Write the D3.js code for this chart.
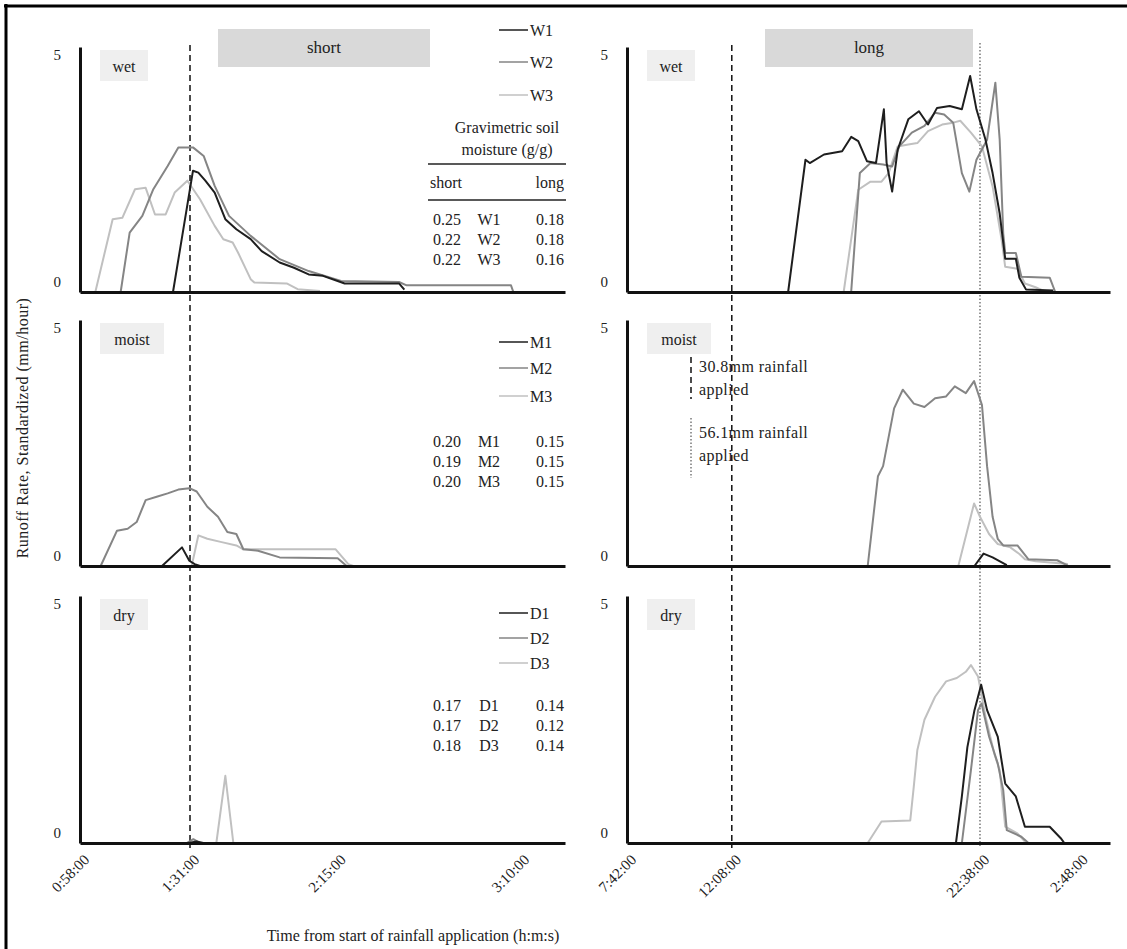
<!DOCTYPE html>
<html lang="en">
<head>
<meta charset="utf-8">
<title>Runoff rate</title>
<script src="https://d3js.org/d3.v7.min.js"></script>
<style>
  body { margin: 0; background: #fff; }
  text { font-family: "Liberation Serif", "DejaVu Serif", serif; fill: #222; font-size: 16px; }
  .axis path { stroke: #111; stroke-width: 3px; }
  .axis text { font-family: "Liberation Serif", serif; font-size: 15px; fill: #222; }
  .series { fill: none; stroke-linejoin: round; }
</style>
</head>
<body>
<div id="chart"></div>
<script>
// x ticks (minutes from start) and their labels
var shortTicks = [58, 91, 135, 190];
var shortTickLabels = ["0:58:00", "1:31:00", "2:15:00", "3:10:00"];
var longTicks = [462, 728, 1358, 1608];
var longTickLabels = ["7:42:00", "12:08:00", "22:38:00", "2:48:00"];
var shortDomain = [58, 203.5];
var longDomain = [462, 1688];
var yTicks = [0, 5];

// rainfall markers: 30.8mm (dashed) and 56.1mm (dotted)
var rainShort = 91;
var rainLong30 = 728;
var rainLong56 = 1358;

var moistureClasses = ["wet", "moist", "dry"];
var plotNames = [["W1", "W2", "W3"], ["M1", "M2", "M3"], ["D1", "D2", "D3"]];
var moistureShort = [["0.25", "0.22", "0.22"], ["0.20", "0.19", "0.20"], ["0.17", "0.17", "0.18"]];
var moistureLong = [["0.18", "0.18", "0.16"], ["0.15", "0.15", "0.15"], ["0.14", "0.12", "0.14"]];

// series: [minutes, runoff mm/hour]
var wetShortW1 = [[85.9,0],[91.9,2.55],[93.5,2.51],[95.6,2.34],[98.4,2.09],[101.6,1.53],[104.9,1.32],[109.2,1.11],[112.5,0.86],[117.9,0.62],[122.2,0.51],[126.6,0.37],[130.9,0.34],[135.3,0.23],[137.4,0.18],[153.7,0.18],[155.3,0.05]];
var wetShortW2 = [[70.2,0],[72.9,1.25],[76.7,1.6],[80,2.16],[84.3,2.65],[87.5,3.04],[91.9,3.04],[95.1,2.86],[98.4,2.23],[102.7,1.6],[109.2,1.18],[117.9,0.69],[126.6,0.44],[136.3,0.23],[153.7,0.21],[156,0.14],[187.3,0.14],[188,0]];
var wetShortW3 = [[62.6,0],[67.8,1.53],[70.7,1.56],[74.5,2.16],[77.7,2.19],[80.5,1.63],[83.7,1.63],[86.4,2.09],[90.2,2.34],[94,1.95],[98.4,1.39],[101,1.11],[103.8,1.04],[105.4,0.83],[109.2,0.27],[110.3,0.2],[120,0.18],[123.3,0.06],[130,0.02]];

var wetLongW1 = [[871,0],[915,2.78],[926,2.71],[962,2.89],[1008,2.96],[1031,3.26],[1049,3.17],[1071,2.75],[1094,2.71],[1114,3.84],[1121,2.71],[1135,2.11],[1149,2.99],[1176,3.63],[1203,3.8],[1226,3.52],[1249,3.87],[1281,3.91],[1312,3.84],[1333,4.54],[1349,3.84],[1372,3.2],[1390,2.5],[1408,1.65],[1422,0.7],[1449,0.7],[1458,0.3],[1475,0.05],[1544,0.03]];
var wetLongW2 = [[1031,0],[1053,2.5],[1080,2.71],[1112,2.68],[1135,2.64],[1153,3.06],[1185,3.35],[1217,3.49],[1244,3.77],[1267,3.73],[1290,3.56],[1312,2.5],[1331,2.11],[1349,2.78],[1376,3.2],[1397,4.4],[1408,3.2],[1417,1.23],[1422,0.82],[1449,0.82],[1463,0.32],[1535,0.3],[1549,0]];
var wetLongW3 = [[1012,0],[1049,2.15],[1080,2.32],[1108,2.32],[1126,2.5],[1149,3.06],[1176,3.1],[1199,3.13],[1226,3.38],[1262,3.52],[1290,3.56],[1308,3.6],[1335,3.35],[1363,3.06],[1390,2.22],[1413,1.09],[1422,0.53],[1453,0.49],[1472,0.18],[1499,0.1],[1526,0]];

var moistShortM1 = [[82.6,0],[88.6,0.39],[90.8,0.11],[92.4,0.04],[94,0]];
var moistShortM2 = [[64.2,0],[69.1,0.74],[72.3,0.78],[75,0.92],[77.7,1.38],[81,1.45],[84.3,1.52],[87.5,1.6],[90.8,1.63],[93,1.56],[96.2,1.24],[99.4,1.03],[102.2,0.71],[104.9,0.67],[107,0.35],[111.4,0.32],[117.9,0.18],[135.3,0.16],[138,0]];
var moistShortM3 = [[91.5,0],[93.5,0.64],[96.2,0.57],[100.5,0.5],[104.9,0.43],[107,0.35],[134.7,0.35],[138.5,0.04],[140,0]];

var moistLongM1 = [[1344,0],[1367,0.26],[1390,0.18],[1426,0.02]];
var moistLongM2 = [[1073,0],[1099,1.88],[1112,2.09],[1140,3.3],[1162,3.69],[1190,3.4],[1217,3.33],[1244,3.51],[1272,3.55],[1294,3.76],[1322,3.62],[1343,3.87],[1363,3.37],[1376,2.09],[1390,1.03],[1403,0.57],[1417,0.43],[1453,0.43],[1481,0.14],[1554,0.12],[1581,0.01]];
var moistLongM3 = [[1303,0],[1343,1.31],[1358,1.03],[1381,0.67],[1403,0.46],[1435,0.39],[1458,0.25],[1472,0.14],[1499,0.1],[1581,0.04]];

var dryShortD1 = [[90.5,0],[93,0.03],[95,0]];
var dryShortD2 = [[90,0],[92,0.08],[94,0]];
var dryShortD3 = [[98.9,0],[101.6,1.4],[104,0]];

var dryLongD1 = [[1297,0],[1312,0.97],[1326,2],[1344,2.77],[1361,3.3],[1376,2.77],[1403,2.22],[1422,1.24],[1449,0.97],[1472,0.34],[1535,0.34],[1563,0.1],[1572,0]];
var dryLongD2 = [[1312,0],[1335,1.52],[1353,2.77],[1362,2.91],[1381,2.22],[1403,1.66],[1417,1.1],[1426,0.27],[1463,0.13],[1481,0]];
var dryLongD3 = [[1073,0],[1108,0.45],[1181,0.47],[1190,1.18],[1199,1.94],[1217,2.57],[1244,3.05],[1272,3.37],[1299,3.44],[1322,3.57],[1335,3.71],[1353,3.47],[1372,2.64],[1394,1.87],[1408,1.52],[1422,0.34],[1453,0.2],[1472,0.03]];

var shortSeries = [[wetShortW1, wetShortW2, wetShortW3], [moistShortM1, moistShortM2, moistShortM3], [dryShortD1, dryShortD2, dryShortD3]];
var longSeries = [[wetLongW1, wetLongW2, wetLongW3], [moistLongM1, moistLongM2, moistLongM3], [dryLongD1, dryLongD2, dryLongD3]];

var width = 1127, height = 949;
var colX = [[80, 565], [627, 1110]];
var rowY = [[47, 292], [320, 566], [596, 843]];
var lineColors = ["#1e1e1e", "#858585", "#c0c0c0"];
var lineWidths = [2, 2, 2];

var svg = d3.select("#chart").append("svg")
    .attr("width", width)
    .attr("height", height);

// frame
svg.append("line").attr("x1", 4).attr("x2", width).attr("y1", 6).attr("y2", 6)
    .attr("stroke", "#000").attr("stroke-width", 3);
svg.append("line").attr("x1", 6).attr("x2", 6).attr("y1", 4).attr("y2", height)
    .attr("stroke", "#000").attr("stroke-width", 3);

// duration header boxes
var headers = [{label: "short", x0: 218, x1: 430}, {label: "long", x0: 765, x1: 973}];
headers.forEach(function(h) {
  svg.append("rect").attr("x", h.x0).attr("y", 29).attr("width", h.x1 - h.x0).attr("height", 38)
      .attr("fill", "#d9d9d9");
  svg.append("text").attr("x", (h.x0 + h.x1) / 2).attr("y", 47).attr("dy", "0.35em")
      .attr("text-anchor", "middle").style("font-size", "17px").text(h.label);
});

var xScales = [
  d3.scaleLinear().domain(shortDomain).range(colX[0]),
  d3.scaleLinear().domain(longDomain).range(colX[1])
];

// rainfall lines through all rows
svg.append("line").attr("x1", xScales[0](rainShort)).attr("x2", xScales[0](rainShort))
    .attr("y1", 45).attr("y2", 848).attr("stroke", "#111").attr("stroke-width", 1.5)
    .attr("stroke-dasharray", "6,4");
svg.append("line").attr("x1", xScales[1](rainLong30)).attr("x2", xScales[1](rainLong30))
    .attr("y1", 45).attr("y2", 848).attr("stroke", "#111").attr("stroke-width", 1.5)
    .attr("stroke-dasharray", "6,4");
svg.append("line").attr("x1", xScales[1](rainLong56)).attr("x2", xScales[1](rainLong56))
    .attr("y1", 43).attr("y2", 848).attr("stroke", "#333").attr("stroke-width", 1)
    .attr("stroke-dasharray", "1.5,2");

moistureClasses.forEach(function(cls, r) {
  var y = d3.scaleLinear().domain([0, 5.15]).range([rowY[r][1], rowY[r][0]]);

  [0, 1].forEach(function(c) {
    var x = xScales[c];
    var g = svg.append("g");
    var series = c === 0 ? shortSeries[r] : longSeries[r];

    // moisture class label
    var lw = cls.length * 8 + 24;
    g.append("rect").attr("x", colX[c][0] + 20).attr("y", rowY[r][0] + 3)
        .attr("width", lw).attr("height", 31).attr("fill", "#efefef");
    g.append("text").attr("x", colX[c][0] + 20 + lw / 2).attr("y", rowY[r][0] + 19)
        .attr("dy", "0.35em").attr("text-anchor", "middle").text(cls);

    var line = d3.line().x(function(d) { return x(d[0]); }).y(function(d) { return y(d[1]); });
    // light lines first, black on top
    [2, 1, 0].forEach(function(i) {
      g.append("path").datum(series[i]).attr("class", "series")
          .attr("d", line)
          .attr("stroke", lineColors[i])
          .attr("stroke-width", lineWidths[i]);
    });

    var xAxis = d3.axisBottom(x)
        .tickValues(c === 0 ? shortTicks : longTicks)
        .tickSize(0)
        .tickFormat(function(d, i) {
          if (r < 2) return "";
          return (c === 0 ? shortTickLabels : longTickLabels)[i];
        });
    var gx = g.append("g").attr("class", "axis")
        .attr("transform", "translate(0," + rowY[r][1] + ")")
        .call(xAxis);
    gx.selectAll("text")
        .attr("x", 0).attr("y", 0).attr("dy", "0.35em")
        .attr("transform", "translate(6,14) rotate(-45)")
        .style("text-anchor", "end");

    var gy = g.append("g").attr("class", "axis")
        .attr("transform", "translate(" + colX[c][0] + ",0)")
        .call(d3.axisLeft(y).tickValues(yTicks).tickFormat(d3.format("d")).tickSize(0).tickPadding(19));
    gy.selectAll("text").attr("dy", function(d) { return d === 0 ? "-0.35em" : "0.35em"; });
  });

  // legend and soil moisture table (short column)
  var legendY = [[30, 62, 95], [342, 368, 396], [613, 638, 663]][r];
  var rowsY = [[219, 239, 259], [441, 461, 481], [705, 725, 745]][r];
  plotNames[r].forEach(function(name, i) {
    svg.append("line").attr("x1", 499).attr("x2", 528)
        .attr("y1", legendY[i]).attr("y2", legendY[i])
        .attr("stroke", lineColors[i]).attr("stroke-width", 1.5);
    svg.append("text").attr("x", 530).attr("y", legendY[i]).attr("dy", "0.35em").text(name);

    svg.append("text").attr("x", 433).attr("y", rowsY[i]).attr("dy", "0.35em")
        .text(moistureShort[r][i]);
    svg.append("text").attr("x", 489).attr("y", rowsY[i]).attr("dy", "0.35em")
        .attr("text-anchor", "middle").text(name);
    svg.append("text").attr("x", 564).attr("y", rowsY[i]).attr("dy", "0.35em")
        .attr("text-anchor", "end").text(moistureLong[r][i]);
  });
});

// table header
svg.append("text").attr("x", 507).attr("y", 127).attr("dy", "0.35em")
    .attr("text-anchor", "middle").text("Gravimetric soil");
var mh = svg.append("text").attr("x", 507).attr("y", 149).attr("dy", "0.35em")
    .attr("text-anchor", "middle");
mh.append("tspan").text("moisture (");
mh.append("tspan").attr("text-decoration", "underline").text("g");
mh.append("tspan").text("/");
mh.append("tspan").attr("text-decoration", "underline").text("g");
mh.append("tspan").text(")");
svg.append("line").attr("x1", 428).attr("x2", 566).attr("y1", 164).attr("y2", 164)
    .attr("stroke", "#222").attr("stroke-width", 1.5);
svg.append("text").attr("x", 430).attr("y", 182).attr("dy", "0.35em").text("short");
svg.append("text").attr("x", 564).attr("y", 182).attr("dy", "0.35em")
    .attr("text-anchor", "end").text("long");
svg.append("line").attr("x1", 428).attr("x2", 566).attr("y1", 200).attr("y2", 200)
    .attr("stroke", "#222").attr("stroke-width", 1.5);

// rainfall legend
svg.append("line").attr("x1", 691).attr("x2", 691).attr("y1", 357).attr("y2", 399)
    .attr("stroke", "#111").attr("stroke-width", 1.5).attr("stroke-dasharray", "6,4");
svg.append("line").attr("x1", 691).attr("x2", 691).attr("y1", 418).attr("y2", 478)
    .attr("stroke", "#333").attr("stroke-width", 1).attr("stroke-dasharray", "1.5,2");
[["30.8mm rainfall", 366], ["applied", 389], ["56.1mm rainfall", 432], ["applied", 455]].forEach(function(t) {
  svg.append("text").attr("x", 699).attr("y", t[1]).attr("dy", "0.35em")
      .style("letter-spacing", "0.4px").text(t[0]);
});

// axis titles
svg.append("text").attr("x", 413).attr("y", 935).attr("dy", "0.35em")
    .attr("text-anchor", "middle")
    .text("Time from start of rainfall application (h:m:s)");
svg.append("text").attr("transform", "translate(22,428) rotate(-90)")
    .attr("dy", "0.35em").attr("text-anchor", "middle").style("letter-spacing", "0.5px")
    .text("Runoff Rate, Standardized (mm/hour)");
</script>
</body>
</html>
